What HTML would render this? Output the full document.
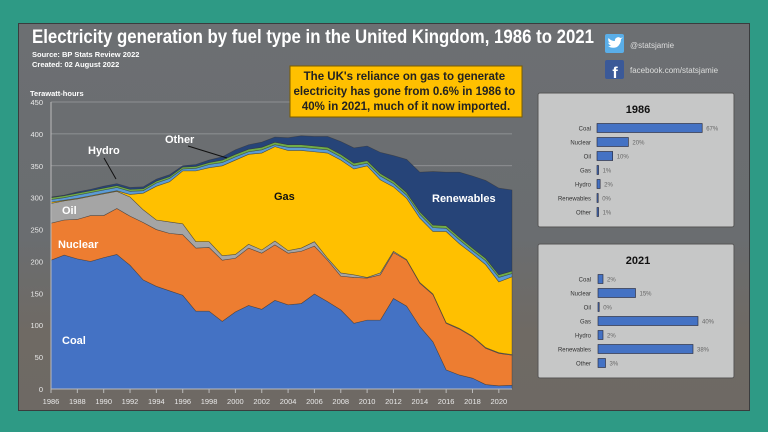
<!DOCTYPE html>
<html><head><meta charset="utf-8"><style>
body{margin:0;width:768px;height:432px;overflow:hidden;background:#2e9a85;font-family:"Liberation Sans",sans-serif}
#panel{position:absolute;left:18px;top:23px;width:732px;height:388px;background:linear-gradient(180deg,#6c6f72 0%,#6a6d70 55%,#6f6a64 80%,#6e6964 100%);border:1px solid #3a3c3e;box-sizing:border-box}
svg{position:absolute;left:0;top:0}
</style></head><body>
<div id="panel"></div>
<svg width="768" height="432" id="chart">
<text x="32" y="43" fill="#fff" font-size="19" font-weight="bold" textLength="562" lengthAdjust="spacingAndGlyphs">Electricity generation by fuel type in the United Kingdom, 1986 to 2021</text>
<text x="32" y="57" fill="#fff" font-size="7.5" font-weight="bold">Source: BP Stats Review 2022</text>
<text x="32" y="67" fill="#fff" font-size="7.5" font-weight="bold">Created: 02 August 2022</text>
<text x="30" y="96" fill="#fff" font-size="7.5" font-weight="bold">Terawatt-hours</text>
<rect x="605" y="34" width="19" height="19" rx="2" fill="#5aaee8"/>
<path d="M608 46 Q612 49 617 47 Q621 44 621 39 L623 37.5 L620.5 38 Q618 36 615.5 38.5 Q614.5 40 615 41 Q611 41 608.5 38 Q607.5 41 610 43 Q609 43 608 42.5 Q609 45 611 45.5 Q609.5 46.5 608 46Z" fill="#fff"/>
<text x="630" y="48" fill="#ddd" font-size="8">@statsjamie</text>
<rect x="605" y="60" width="19" height="19" rx="2" fill="#3b5998"/>
<text x="615" y="78" fill="#fff" font-size="16" font-weight="bold" text-anchor="middle">f</text>
<text x="630" y="73" fill="#ddd" font-size="8">facebook.com/statsjamie</text>
<g id="grid"></g><g id="areas"></g><g id="axes"></g>
<g>
<text x="62" y="344" fill="#fff" font-size="11" font-weight="bold">Coal</text>
<text x="58" y="248" fill="#fff" font-size="11" font-weight="bold">Nuclear</text>
<text x="62" y="214" fill="#fff" font-size="11" font-weight="bold">Oil</text>
<text x="88" y="154" fill="#fff" font-size="11" font-weight="bold">Hydro</text>
<line x1="104" y1="158" x2="116" y2="179" stroke="#111" stroke-width="1"/>
<text x="165" y="143" fill="#fff" font-size="11" font-weight="bold">Other</text>
<line x1="188" y1="146" x2="227" y2="158" stroke="#111" stroke-width="1"/>
<text x="274" y="200" fill="#111" font-size="11" font-weight="bold">Gas</text>
<text x="432" y="202" fill="#fff" font-size="11" font-weight="bold">Renewables</text>
</g>
<g>
<rect x="290" y="66" width="232" height="51" fill="#ffc000" stroke="#7a5c00" stroke-width="1"/>
<text font-size="11.5" font-weight="bold" fill="#222" text-anchor="middle">
<tspan x="406" y="80">The UK's reliance on gas to generate</tspan>
<tspan x="406" y="95">electricity has gone from 0.6% in 1986 to</tspan>
<tspan x="406" y="110">40% in 2021, much of it now imported.</tspan></text>
</g>
<g id="side"></g>
</svg>
<script>
const years=[];for(let y=1986;y<=2021;y++)years.push(y);
const coal=[202,210,204,200,206,211,194,171,161,154,147,122,122,106,121,131,125,139,132,134,149,137,124,103,108,108,142,130,98,74,30,22,17,7,5,6];
const nuclear=[58,55,62,72,66,72,77,90,89,90,95,99,100,96,84,90,88,87,81,82,75,65,53,72,66,71,72,72,68,74,73,72,65,57,51,47];
const oil=[31,30,32,30,34,27,30,20,15,18,17,10,9,7,6,6,5,6,4,5,7,3,5,4,1,3,2,1,1,1,1,1,1,1,1,1];
const gas=[2,1,1,1,1,1,4,26,53,63,83,111,116,141,148,141,152,148,157,153,141,165,177,166,175,146,101,96,101,98,143,133,129,130,111,122];
const hydro=[4,4,5,5,5,5,5,4,5,5,3,4,5,5,5,4,5,3,5,5,5,5,5,5,4,6,5,5,6,6,5,6,5,6,7,5];
const other=[3,3,3,3,3,3,3,3,3,3,3,3,3,4,4,4,4,4,4,4,4,4,4,4,4,4,4,4,4,4,4,4,4,4,4,4];
const renewables=[1,1,2,2,3,3,3,3,3,3,2,3,4,5,7,7,8,8,11,14,15,17,20,24,23,33,40,52,62,84,84,102,113,122,136,127];
const yTicks=[0,50,100,150,200,250,300,350,400,450];
const xTicks=[1986,1988,1990,1992,1994,1996,1998,2000,2002,2004,2006,2008,2010,2012,2014,2016,2018,2020];
const seriesNames=['coal','nuclear','oil','gas','hydro','other','renewables'];
const seriesData=[coal,nuclear,oil,gas,hydro,other,renewables];
const colors=['#4472c4','#ed7d31','#a5a5a5','#ffc000','#5b9bd5','#70ad47','#264478'];
const pie86Labels=['Coal','Nuclear','Oil','Gas','Hydro','Renewables','Other'];
const pie86=[67,20,10,1,2,0,1];
const pie21=[2,15,0,40,2,38,3];
const NS='http://www.w3.org/2000/svg';
const X=y=>51+(y-1986)*(512-51)/35;
const Y=v=>389-v*(287/450);
function mk(tag,attrs,parent){const e=document.createElementNS(NS,tag);for(const k in attrs)e.setAttribute(k,attrs[k]);parent.appendChild(e);return e;}
const grid=document.getElementById('grid'),areas=document.getElementById('areas'),axes=document.getElementById('axes');
yTicks.forEach(t=>{
 if(t>0){const l=mk('line',{x1:51,x2:512,y1:Y(t),y2:Y(t),stroke:'#9a9c9e','stroke-width':0.8},grid);
 
 }
 const tx=mk('text',{x:43,y:Y(t)+3,fill:'#e8e8e8','font-size':7.5,'text-anchor':'end'},axes);tx.textContent=t;
 
 
});
let base=years.map(()=>0);
seriesData.forEach((s,i)=>{
 const top=base.map((b,j)=>b+s[j]);
 let d='M'+years.map((y,j)=>X(y)+','+Y(top[j])).join(' L');
 for(let j=years.length-1;j>=0;j--)d+=' L'+X(years[j])+','+Y(base[j]);
 const p=mk('path',{d:d+'Z',fill:colors[i],stroke:'#333','stroke-width':0.6,'stroke-opacity':0.6},areas);
 
 
 base=top;
});
mk('line',{x1:51,x2:512,y1:389,y2:389,stroke:'#bbb'},axes);
mk('line',{x1:51,x2:51,y1:102,y2:389,stroke:'#bbb'},axes);
xTicks.forEach(t=>{
 mk('line',{x1:X(t),x2:X(t),y1:389,y2:393,stroke:'#bbb'},axes);
 const tx=mk('text',{x:X(t),y:404,fill:'#e8e8e8','font-size':7.5,'text-anchor':'middle'},axes);tx.textContent=t;
 
 
});
const side=document.getElementById('side');
function panel(top,title,vals,start,scale,name){
 const g=mk('g',{},side);
 
 
 mk('rect',{x:538,y:top,width:196,height:134,fill:'#c6c7c7',stroke:'#555','stroke-width':1,rx:2},g);
 const t=mk('text',{x:638,y:top+20,'font-size':11,'font-weight':'bold','text-anchor':'middle',fill:'#111'},g);t.textContent=title;
 vals.forEach((v,i)=>{
  const y=top+35+i*14;
  const l=mk('text',{x:591,y:y+2.5,'font-size':6,'text-anchor':'end',fill:'#333'},g);l.textContent=pie86Labels[i];
  const r=mk('rect',{x:start,y:y-4.5,width:Math.max(v*scale,1.2),height:9,fill:'#4472c4',stroke:'#223',"stroke-width":0.6},g);
  
  
  const p=mk('text',{x:start+Math.max(v*scale,1.2)+4,y:y+2.5,'font-size':6,fill:'#666'},g);p.textContent=v+'%';
 });
}
panel(93,'1986',pie86,597,1.57,'share-panel-1986');
panel(244,'2021',pie21,598,2.5,'share-panel-2021');
</script>
</body></html>
